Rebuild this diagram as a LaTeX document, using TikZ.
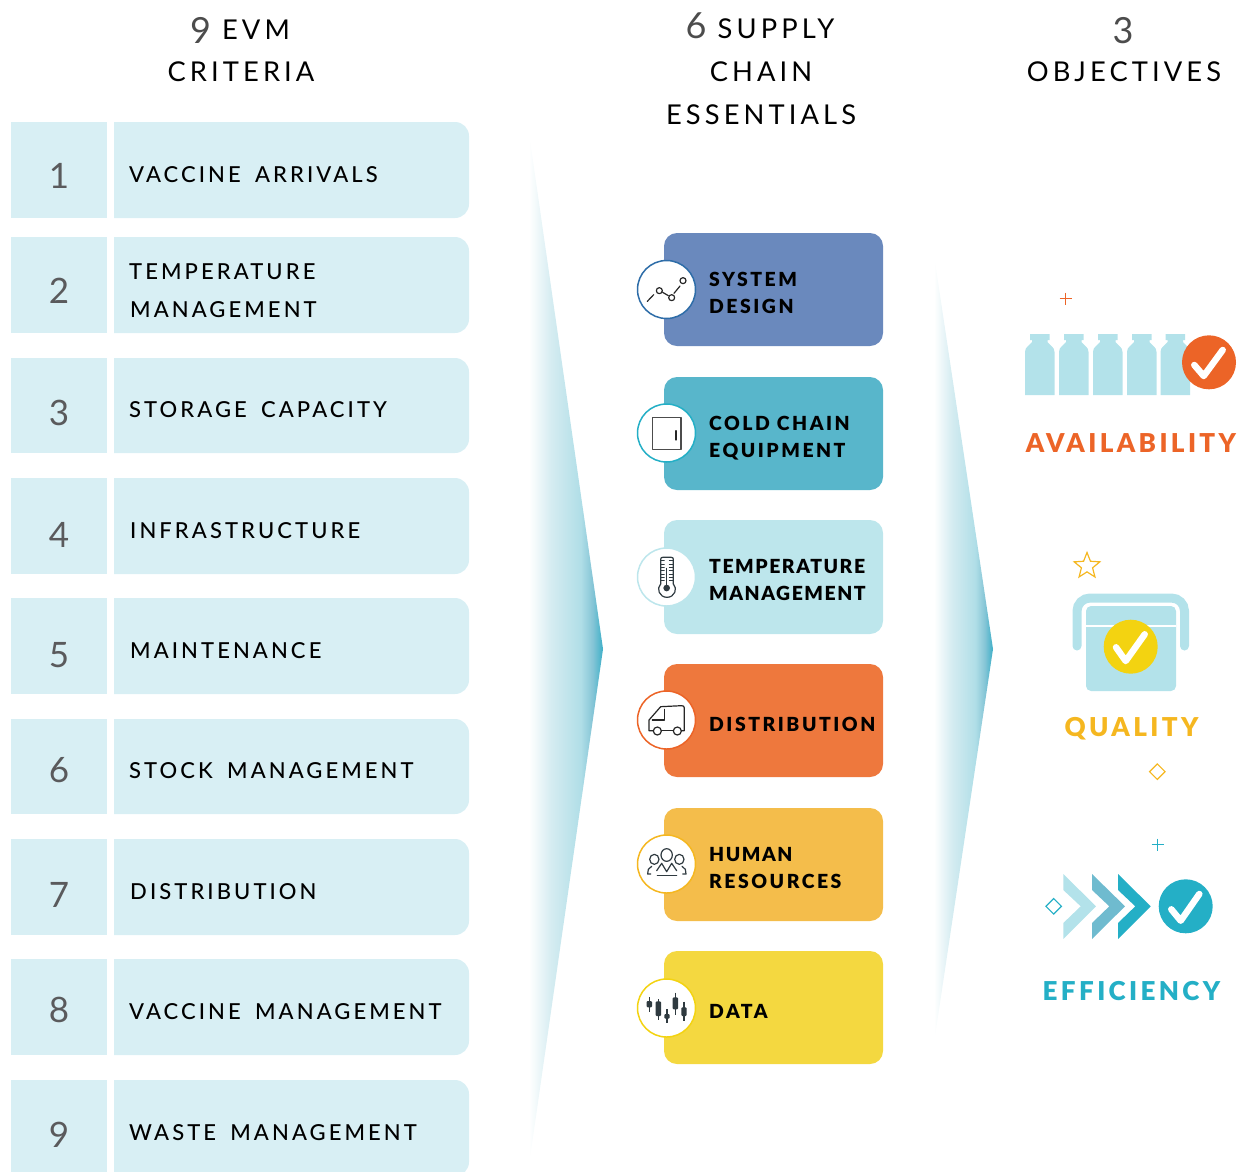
\documentclass[tikz,border=0pt]{standalone}
\usepackage{fontspec}
\usetikzlibrary{shapes.geometric}
\setmainfont{Lato}
\newfontfamily\numf{Lato}
\newfontfamily\lblf[LetterSpace=14,WordSpace=1.65]{Lato Medium}
\newfontfamily\headf[LetterSpace=15]{Lato}
\newfontfamily\blkf[LetterSpace=13]{Lato Black}
\newfontfamily\blkn[LetterSpace=8]{Lato Black}
\definecolor{rowbg}{HTML}{D8EFF4}
\definecolor{icebg}{HTML}{B3E2EA}
\definecolor{cblue}{HTML}{6A89BD}
\definecolor{cteal}{HTML}{58B6CB}
\definecolor{cpale}{HTML}{BDE6EC}
\definecolor{corange}{HTML}{EE783D}
\definecolor{camber}{HTML}{F4BD4B}
\definecolor{cyellow}{HTML}{F4D840}
\definecolor{dorange}{HTML}{EC6427}
\definecolor{damber}{HTML}{F5B720}
\definecolor{dteal}{HTML}{24AFC6}
\definecolor{dyellow}{HTML}{F3D311}
\definecolor{dnavy}{HTML}{2E6DA8}
\definecolor{numgrey}{HTML}{5A5A5C}
\definecolor{icondark}{HTML}{2F3A40}
\definecolor{chevmid}{HTML}{6FBBCF}
\definecolor{wa}{HTML}{D5ECF1}
\definecolor{wb}{HTML}{B0DEE7}
\definecolor{wc}{HTML}{85C5D6}
\definecolor{wd}{HTML}{3DAFC8}
\pgfdeclarehorizontalshading{wedgeshade}{100bp}{color(0bp)=(white); color(25bp)=(white); color(40bp)=(wa); color(60bp)=(wb); color(68bp)=(wc); color(75bp)=(wd); color(100bp)=(wd)}
\tikzset{
  numnode/.style={inner sep=0pt,text=numgrey,font=\numf\fontsize{35}{35}\selectfont},
  lbl/.style={anchor=base west,inner sep=0pt,text=black,font=\lblf\fontsize{22}{22}\selectfont},
  hdr/.style={anchor=base,inner sep=0pt,text=black,font=\headf\fontsize{27.3}{27.3}\selectfont},
  blk/.style={anchor=base west,inner sep=0pt,text=black,font=\blkf\fontsize{19.4}{19.4}\selectfont},
  blknarrow/.style={blk,font=\blkn\fontsize{19.4}{19.4}\selectfont},
  obj/.style={anchor=base,inner sep=0pt,font=\blkf\fontsize{26}{26}\selectfont},
  card/.style={rounded corners=13pt},
  disc/.style={circle,fill=white,line width=1.5pt,minimum size=58pt,inner sep=0pt},
  ico/.style={line width=1.2pt,draw=black!85,line cap=round,line join=round},
  tick/.style={draw=white,line width=6.5pt,line cap=round,line join=round},
  badge/.style={circle,minimum size=54pt,inner sep=0pt},
}
\newcommand{\hdig}[2]{\raisebox{#1pt}{\numf\fontsize{36}{36}\selectfont\color{black!70}#2}}
\newcommand{\rowbox}[2]{%
  \fill[rowbg] (11,#1) rectangle (107,#2);
  \fill[rowbg] (114,#2) [sharp corners] -- (114,#1) [rounded corners=14pt] -- (469,#1) -- (469,#2) [sharp corners] -- cycle;
}
\newcommand{\bottle}[1]{%
  \fill[icebg,shift={(#1,0)}] (0,395) -- (0,352) .. controls (0,347) and (4,346) .. (7,342) -- (7,340) -- (5,340) -- (5,334) -- (24.5,334) -- (24.5,340) -- (22.5,340) -- (22.5,342) .. controls (25.5,346) and (29.5,347) .. (29.5,352) -- (29.5,395) -- cycle;
}
\newcommand{\chev}[4]{% colour, left x, inner x, tip x
  \fill[#1] (#2,874) -- (#4,906.3) -- (#2,939) -- (#2,923) -- (#3,906.3) -- (#2,890) -- cycle;
}
\begin{document}
\begin{tikzpicture}[x=1pt,y=-1pt]
\useasboundingbox (0,0) rectangle (1239,1171);
\clip (0,0) rectangle (1239,1171);
% headers
\node[hdr] (h1a) at (240,39.5) {\hdig{-4}{9} EVM};
\node[hdr] (h1b) at (241,81.5) {CRITERIA};
\node[hdr] (h2a) at (760,38.5) {\hdig{0}{6} SUPPLY};
\node[hdr] (h2b) at (761,81.5) {CHAIN};
\node[hdr] (h2c) at (761,124.5) {ESSENTIALS};
\node[hdr] (h3a) at (1123,43.5) {\hdig{0}{3}};
\node[hdr] (h3b) at (1124,81.5) {OBJECTIVES};
% rows
\rowbox{122}{218}\rowbox{237}{333}\rowbox{358}{453}\rowbox{478}{574}\rowbox{598}{694}\rowbox{719}{814}\rowbox{839}{935}\rowbox{959}{1055}\rowbox{1080}{1176}
\node[numnode] (n1) at (59,176) {1};
\node[numnode] (n2) at (59,291) {2};
\node[numnode] (n3) at (59,413) {3};
\node[numnode] (n4) at (59,535) {4};
\node[numnode] (n5) at (59,655) {5};
\node[numnode] (n6) at (59,770) {6};
\node[numnode] (n7) at (59,895) {7};
\node[numnode] (n8) at (59,1010) {8};
\node[numnode] (n9) at (59,1135) {9};
\node[lbl] (l1) at (129,182.5) {VACCINE ARRIVALS};
\node[lbl] (l2a) at (129,279.5) {TEMPERATURE};
\node[lbl] (l2b) at (130,317.5) {MANAGEMENT};
\node[lbl] (l3) at (129,417.5) {STORAGE CAPACITY};
\node[lbl] (l4) at (130,538.5) {INFRASTRUCTURE};
\node[lbl] (l5) at (130,658.5) {MAINTENANCE};
\node[lbl] (l6) at (129,778.5) {STOCK MANAGEMENT};
\node[lbl] (l7) at (130,899.5) {DISTRIBUTION};
\node[lbl] (l8) at (129,1019.5) {VACCINE MANAGEMENT};
\node[lbl] (l9) at (129,1140.5) {WASTE MANAGEMENT};
% wedges
\path[shading=wedgeshade] (529,133) -- (603,649) -- (529,1165) -- cycle;
\path[shading=wedgeshade] (934,255) -- (993,649) -- (934,1043) -- cycle;
% cards
\fill[cblue,card] (664,233) rectangle (883,346);
\fill[cteal,card] (664,377) rectangle (883,490);
\fill[cpale,card] (664,520) rectangle (883,634);
\fill[corange,card] (664,664) rectangle (883,777);
\fill[camber,card] (664,808) rectangle (883,921);
\fill[cyellow,card] (664,951) rectangle (883,1064);
\node[disc,draw=dnavy] (c1) at (666.5,289.5) {};
\node[disc,draw=dteal] (c2) at (666.5,433) {};
\node[disc,draw=cpale] (c3) at (666.5,577) {};
\node[disc,draw=dorange] (c4) at (666.5,720) {};
\node[disc,draw=damber] (c5) at (666.5,864) {};
\node[disc,draw=dyellow] (c6) at (666.5,1008) {};
\node[blk] (t1a) at (709,286.5) {SYSTEM};
\node[blk] (t1b) at (709,313.5) {DESIGN};
\node[blk] (t2a) at (709,430.5) {COLD CHAIN};
\node[blk] (t2b) at (709,457.5) {EQUIPMENT};
\node[blknarrow] (t3a) at (709,573.5) {TEMPERATURE};
\node[blknarrow] (t3b) at (709,600.5) {MANAGEMENT};
\node[blk] (t4) at (709,731.5) {DISTRIBUTION};
\node[blknarrow] (t5a) at (709,861.5) {HUMAN};
\node[blk] (t5b) at (709,888.5) {RESOURCES};
\node[blk] (t6) at (709,1018.5) {DATA};
% icon: system design and cold chain
\begin{scope}[shift={(620,220)},scale=1/3]
\draw[ico] (118,212) circle (9) (155,233) circle (9) (189,182) circle (9);
\draw[ico] (82,244) -- (101,224) (128,217) -- (145,227) (162,220) -- (180,198);
\draw[ico,draw=black!70] (98,592) rectangle (183,688);
\draw[ico] (168,632) -- (168,660);
\end{scope}
% icon: thermometer
\begin{scope}[shift={(620,510)},scale=1/3]
\draw[ico,draw=icondark] (122,222) -- (122,148) .. controls (122,143) and (125,142) .. (128,142) -- (154,142) .. controls (158,142) and (160,144) .. (160,148) -- (160,222);
\draw[ico,draw=icondark] (122,222) .. controls (108,235) and (118,262) .. (141,262) .. controls (164,262) and (174,235) .. (160,222);
\fill[icondark] (140,234) circle (10);
\draw[ico,draw=icondark,line width=1pt] (140,175) -- (140,225);
\foreach \yy in {152,162,172,182,192,202,212}{\draw[ico,draw=icondark,line width=.7pt] (122,\yy) -- (133,\yy) (148,\yy) -- (160,\yy);}
% icon: truck
\draw[ico] (100,662) -- (87,662) -- (87,630) -- (122,590) -- (185,587) .. controls (190,587) and (193,589) .. (193,594) -- (193,662) -- (184,662);
\draw[ico] (124,662) -- (160,662);
\draw[ico] (97,630) -- (133,630) -- (133,598);
\draw[ico] (112,663) circle (12) (172,663) circle (12);
\end{scope}
% icon: people, data
\begin{scope}[shift={(620,800)},scale=1/3]
\draw[ico,draw=icondark] (140,165) ellipse (17 and 19);
\draw[ico,draw=icondark] (103,178) ellipse (14 and 15) (178,178) ellipse (14 and 15);
\draw[ico,draw=icondark] (110,212) -- (125,190) -- (140,215) -- (155,190) -- (170,212);
\draw[ico,draw=icondark] (112,226) -- (170,226);
\draw[ico,draw=icondark] (92,222) -- (83,222) -- (85,208) -- (95,199);
\draw[ico,draw=icondark] (188,222) -- (198,222) -- (196,208) -- (186,199);
\foreach \xx/\wa/\wb/\ba/\bb in {88/592/635/603/622,115/597/660/604/648,141/628/668/642/656,166/578/645/592/628,192/605/662/622/648}{
  \draw[icondark,line width=1.2pt] (\xx,\wa) -- (\xx,\wb);
  \fill[icondark,rounded corners=1pt] (\xx-8,\ba) rectangle (\xx+8,\bb);
}
\end{scope}
% objectives: availability
\bottle{1025}\bottle{1059}\bottle{1093}\bottle{1127}\bottle{1160.5}
\draw[dorange,line width=.8pt] (1059.7,298.7) -- (1071.7,298.7) (1065.7,292.7) -- (1065.7,304.7);
\node[badge,fill=dorange] (b1) at (1209,362.3) {};
\draw[tick] (1194.3,365) -- (1203.7,376) -- (1222.7,350);
\node[obj,text=dorange] (o1) at (1131,452) {AVAILABILITY};
% quality
\draw[icebg,line width=9pt,line cap=round,rounded corners=13pt] (1077,646) -- (1077,598) -- (1184.5,598) -- (1184.5,646);
\fill[icebg,rounded corners=5pt] (1086,606) rectangle (1176,691);
\draw[white,line width=2pt] (1086,626) -- (1176,626);
\node[badge,fill=dyellow] (b2) at (1130.7,646.7) {};
\draw[tick] (1116,647.3) -- (1125.7,661) -- (1144.7,634.3);
\node[draw=damber,star,star points=5,star point ratio=2.3,minimum size=27pt,inner sep=0pt,line width=1.2pt] (s1) at (1087,566) {};
\node[draw=damber,diamond,minimum size=16pt,inner sep=0pt,line width=1.2pt] (d1) at (1157.3,771.7) {};
\node[obj,text=damber] (o2) at (1131.5,736) {QUALITY};
% efficiency
\chev{icebg}{1063.3}{1080.7}{1096}
\chev{chevmid}{1092}{1109.3}{1125}
\chev{dteal}{1118}{1135.3}{1150.7}
\node[badge,fill=dteal] (b3) at (1185.7,906.3) {};
\draw[tick] (1171.3,909.3) -- (1180.7,920.7) -- (1199.3,894);
\draw[dteal,line width=.8pt] (1151.7,844.7) -- (1163.7,844.7) (1157.7,838.7) -- (1157.7,850.7);
\node[draw=dteal,diamond,minimum size=16pt,inner sep=0pt,line width=1.2pt] (d2) at (1053.7,906.3) {};
\node[obj,text=dteal] (o3) at (1131.5,1000) {EFFICIENCY};
\end{tikzpicture}
\end{document}
